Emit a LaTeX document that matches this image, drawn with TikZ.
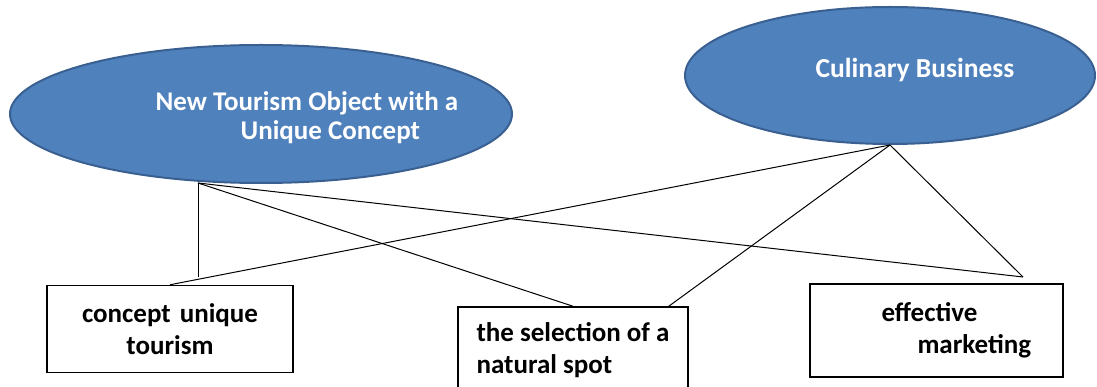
\documentclass[tikz,border=0pt]{standalone}
\usepackage{fontspec}
\setmainfont{Carlito}
\usetikzlibrary{shapes.geometric}
\definecolor{topicblue}{RGB}{79,129,189}
\definecolor{topicedge}{RGB}{58,96,145}
\tikzset{
  topic/.style={ellipse, draw=topicedge, line width=2pt, fill=topicblue, inner sep=0pt},
  topictext/.style={text=white, font=\bfseries\fontsize{27}{29}\selectfont, align=left, inner sep=0pt},
  item/.style={draw, line width=1.5pt, font=\bfseries\fontsize{27}{32}\selectfont, inner sep=0pt},
  link/.style={line width=1pt}
}
\begin{document}
\begin{tikzpicture}[x=1pt,y=-1pt]
\useasboundingbox[fill=white] (0,0) rectangle (1097,387);
% the two topics
\node[topic, minimum width=502pt, minimum height=138pt] (tourism) at (261,114) {};
\node[topic, minimum width=410pt, minimum height=137pt] (culinary) at (890,75.5) {};
\node[topictext] (tourismlbl) at (307,117.5) {New Tourism Object with a\\\hspace*{85pt}Unique Concept};
\node[topictext, font=\bfseries\fontsize{27.5}{30}\selectfont] (culinarylbl) at (915,70) {Culinary Business};
% the three items
\node[item, minimum width=246pt, minimum height=87pt, align=center] (concept) at (170,329) {concept\hspace{9pt}unique\\tourism};
\node[item, minimum width=230pt, minimum height=86pt, align=left] (spot) at (573,350) {the selection of a\\natural spot};
\node[item, minimum width=253pt, minimum height=93pt, text width=210pt, align=left] (marketing) at (936.5,330.5) {\hspace*{50pt}effective\\\hspace*{86pt}marketing};
\coordinate (tourismfoot) at (198,183);
\coordinate (culinaryfoot) at (culinary.south);
\coordinate (conceptstub) at (198,277);
\coordinate (marketingapex) at (1023,277);
\draw[link] (tourismfoot) -- (conceptstub);
\draw[link] (tourismfoot) -- (spot.north);
\draw[link] (tourismfoot) -- (marketingapex);
\draw[link] (culinaryfoot) -- (concept.north);
\draw[link] (culinaryfoot) -- ([xshift=-20pt]spot.north east);
\draw[link] (culinaryfoot) -- (marketingapex);
\end{tikzpicture}
\end{document}
